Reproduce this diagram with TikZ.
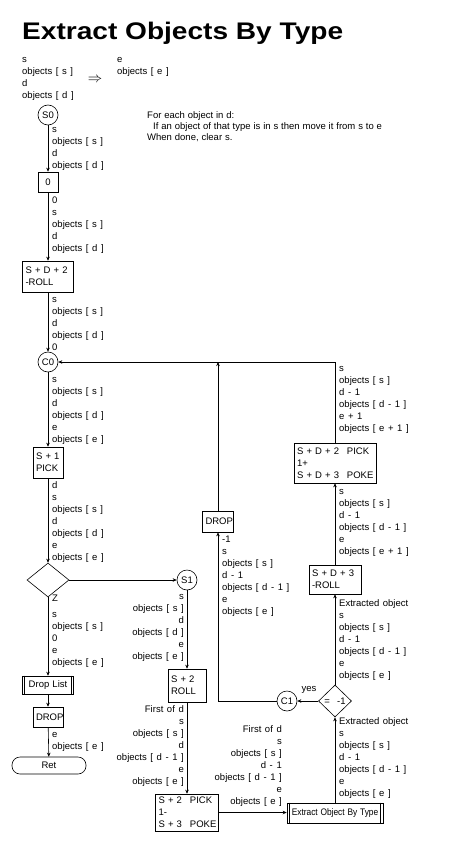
\documentclass[tikz,border=0pt]{standalone}
\usepackage{fontspec}
\setmainfont{Liberation Sans}
\usepackage{graphicx}
\usetikzlibrary{arrows.meta,shapes.geometric}
\newcommand\lblfont{\fontsize{9.5}{12}\selectfont\spaceskip=3.6pt\relax}
\newcommand\boxfont{\fontsize{9.5}{12}\selectfont\spaceskip=3.2pt\relax}
\newcommand\cmfont{\fontsize{9.5}{11}\selectfont\spaceskip=2.9pt\relax}
\begin{document}
\begin{tikzpicture}[x=1pt,y=-1pt,
  lbl/.style={anchor=north west,inner sep=0pt,align=left,font=\lblfont,yshift=5.2pt,execute at begin node=\strut},
  lblr/.style={lbl,anchor=north east,align=right},
  box/.style={draw,line width=.6pt,inner xsep=3pt,inner ysep=0pt,align=left,font=\boxfont},
  cbox/.style={box,align=center},
  conn/.style={draw,circle,line width=.6pt,minimum size=20pt,inner sep=0pt,font=\lblfont},
  dia/.style={draw,diamond,line width=.6pt,inner sep=0pt,font=\lblfont},
  arr/.style={line width=.6pt,-{Stealth[length=4pt,width=3.5pt]}},
  ln/.style={line width=.6pt}]
\useasboundingbox (0,0) rectangle (448,851);
\fill[white] (0,0) rectangle (448,851);

% title
\node[anchor=base west,inner sep=0pt,font=\fontsize{24}{28}\selectfont\bfseries] (title) at (22,40) {\scalebox{1.17}[1]{Extract Objects By Type}};

% header
\node[lbl] (tl) at (22,62) {s\\objects [ s ]\\d\\objects [ d ]};
\node[font=\Large,inner sep=0pt] (imp) at (95,80) {$\Rightarrow$};
\node[lbl] (tr) at (117,62) {e\\objects [ e ]};
\node[lbl,font=\cmfont] (cm) at (147,117) {For each object in d:\\\hspace*{6pt}If an object of that type is in s then move it from s to e\\When done, clear s.};

% left column
\node[conn] (s0) at (48,115) {S0};
\node[cbox,text width=14pt,minimum height=20pt] (b0) at (48,182) {0};
\node[box,text width=45pt,minimum height=31pt] (bsd2) at (48,276.5) {S + D + 2\\-ROLL};
\node[conn] (c0) at (48,362) {C0};
\node[box,text width=24pt,minimum height=31pt] (bs1) at (48,462.5) {S + 1\\PICK};
\node[dia,minimum width=42pt,minimum height=34pt] (dia1) at (48,580) {};
\node[cbox,text width=45pt,minimum height=18pt] (dl) at (48,685) {Drop List};
\draw[ln] ([xshift=2.5pt]dl.north west) -- ([xshift=2.5pt]dl.south west);
\draw[ln] ([xshift=-2.5pt]dl.north east) -- ([xshift=-2.5pt]dl.south east);
\node[cbox,text width=24pt,minimum height=20pt] (drop1) at (48,717) {DROP};
\node[draw,line width=.6pt,rounded corners=8pt,minimum width=74pt,minimum height=17pt,inner sep=0pt,font=\boxfont] (ret) at (49,765.5) {Ret};

% middle column
\node[conn] (s1) at (187,580) {S1};
\node[box,text width=32pt,minimum height=33pt] (s2roll) at (187,685.5) {S + 2\\ROLL};
\node[box,text width=57pt,minimum height=37pt] (pick2) at (187,812.5) {\makebox[31.5pt][l]{S + 2}PICK\\1-\\\makebox[31.5pt][l]{S + 3}POKE};
\node[draw,line width=.6pt,inner sep=0pt,minimum width=96pt,minimum height=20pt,font=\boxfont] (eobt) at (335,813) {\scalebox{0.88}[1]{Extract Object By Type}};
\draw[ln] ([xshift=2.8pt]eobt.north west) -- ([xshift=2.8pt]eobt.south west);
\draw[ln] ([xshift=-2.8pt]eobt.north east) -- ([xshift=-2.8pt]eobt.south east);
\node[cbox,text width=25pt,minimum height=21pt] (drop2) at (218,521.5) {DROP};
\node[conn] (c1) at (287,701) {C1};

% right column
\node[dia,minimum width=33pt,minimum height=32pt] (dia2) at (335,701) {=\ \ -1};
\node[box,text width=46pt,minimum height=29pt] (sd3roll) at (335,579.5) {S + D + 3\\-ROLL};
\node[box,text width=76pt,minimum height=40pt] (sd2pick) at (335,463) {\makebox[50pt][l]{S + D + 2}PICK\\1+\\\makebox[50pt][l]{S + D + 3}POKE};
\coordinate (j) at (218,362);

% connectors
\draw[arr] (s0) -- (b0);
\draw[arr] (b0) -- (bsd2);
\draw[arr] (bsd2) -- (c0);
\draw[arr] (c0) -- (bs1);
\draw[arr] (bs1) -- (dia1);
\draw[arr] (dia1.east) -- (s1);
\draw[arr] (dia1) -- (dl);
\draw[arr] (dl) -- (drop1);
\draw[arr] (drop1) -- (ret);
\draw[arr] (s1) -- (s2roll);
\draw[arr] (s2roll) -- (pick2);
\draw[arr] (pick2.east) -- (pick2.east -| eobt.west);
\draw[arr] (eobt) -- (dia2);
\draw[arr] (dia2) -- (c1);
\draw[arr] (dia2) -- (sd3roll);
\draw[arr] (sd3roll) -- (sd2pick);
\draw[arr] (sd2pick.north) |- (c0);
\draw[arr] (c1) -| (drop2);
\draw[arr] (drop2) -- (j);

% labels
\node[lbl] (la) at (52,132) {s\\objects [ s ]\\d\\objects [ d ]};
\node[lbl] (lb) at (52,202) {0\\s\\objects [ s ]\\d\\objects [ d ]};
\node[lbl] (lc) at (52,302) {s\\objects [ s ]\\d\\objects [ d ]\\0};
\node[lbl] (ld) at (52,382) {s\\objects [ s ]\\d\\objects [ d ]\\e\\objects [ e ]};
\node[lbl] (le) at (52,487) {d\\s\\objects [ s ]\\d\\objects [ d ]\\e\\objects [ e ]};
\node[lbl] (lf) at (52,600) {Z\\[4pt]s\\objects [ s ]\\0\\e\\objects [ e ]};
\node[lbl] (lg) at (52,737) {e\\objects [ e ]};

\node[lblr] (ma) at (184,599) {s\\objects [ s ]\\d\\objects [ d ]\\e\\objects [ e ]};
\node[lblr] (mb) at (184,711) {First of d\\s\\objects [ s ]\\d\\objects [ d - 1 ]\\e\\objects [ e ]};
\node[lblr] (mc) at (282,731) {First of d\\s\\objects [ s ]\\d - 1\\objects [ d - 1 ]\\e\\objects [ e ]};
\node[lbl] (md) at (222,541) {-1\\s\\objects [ s ]\\d - 1\\objects [ d - 1 ]\\e\\objects [ e ]};

\node[lbl] (ra) at (339,371) {s\\objects [ s ]\\d - 1\\objects [ d - 1 ]\\e + 1\\objects [ e + 1 ]};
\node[lbl] (rb) at (339,494) {s\\objects [ s ]\\d - 1\\objects [ d - 1 ]\\e\\objects [ e + 1 ]};
\node[lbl] (rc) at (339,605) {Extracted object\\s\\objects [ s ]\\d - 1\\objects [ d - 1 ]\\e\\objects [ e ]};
\node[lbl] (rd) at (339,723) {Extracted object\\s\\objects [ s ]\\d - 1\\objects [ d - 1 ]\\e\\objects [ e ]};
\node[font=\lblfont,inner sep=0pt] (yes) at (309,690) {yes};
\end{tikzpicture}
\end{document}
